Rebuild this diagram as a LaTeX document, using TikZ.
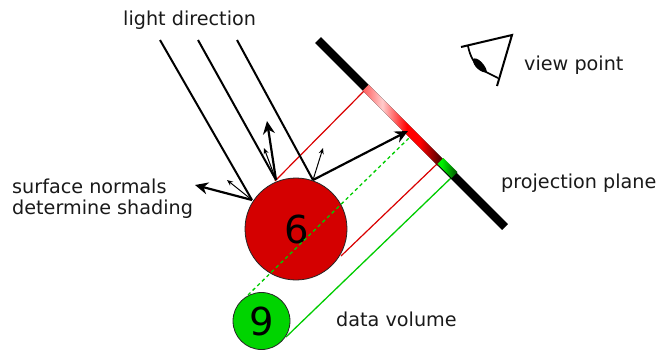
\documentclass[tikz,border=0pt]{standalone}
\usepackage{fontspec}
\setmainfont{DejaVu Sans}
\usetikzlibrary{arrows.meta}
\definecolor{ballred}{RGB}{212,0,0}
\definecolor{ballgreen}{RGB}{0,212,0}
\pgfdeclarehorizontalshading{redramp}{100bp}{
  color(0bp)=(white!35!red);
  color(25bp)=(white!35!red);
  color(37bp)=(white!80!red);
  color(52bp)=(red);
  color(60bp)=(red);
  color(72bp)=(black!65!red);
  color(100bp)=(black!65!red)}
\pgfdeclarehorizontalshading{greenramp}{100bp}{
  color(0bp)=(black!5!green);
  color(35bp)=(black!5!green);
  color(75bp)=(black!70!green);
  color(100bp)=(black!70!green)}
\tikzset{
  x=1pt,y=-1pt,
  lab/.style={font=\fontsize{19.2}{23}\selectfont,inner sep=0pt,text=black!90},
  ball/.style={circle,draw=black!85,line width=.8pt,inner sep=0pt,font=\fontsize{38.5}{38}\selectfont},
  lightray/.style={draw=black,line width=2pt},
  bignormal/.style={draw=black,line width=2.2pt,-{Stealth[length=13pt,width=12pt]}},
  smallnormal/.style={draw=black,line width=1pt,-{Stealth[length=6pt,width=5pt]}},
  redray/.style={draw=red!85!black,line width=1.2pt},
  greenray/.style={draw=green!80!black,line width=1.3pt},
  plane/.style={minimum height=8.4pt,inner sep=0pt,rotate=-45}
}
\begin{document}
\begin{tikzpicture}
\useasboundingbox (0,0) rectangle (659,349);
% coordinates
\coordinate (L1) at (160,40); \coordinate (H1) at (252,200);
\coordinate (L2) at (198,40); \coordinate (H2) at (276,180);
\coordinate (L3) at (237,40); \coordinate (H3) at (313,180);
\coordinate (N1a) at (195,185); \coordinate (N1b) at (227,180);
\coordinate (N2a) at (267,121); \coordinate (N2b) at (264,148);
\coordinate (N3a) at (408,131); \coordinate (N3b) at (323,148);
\coordinate (P0) at (318,40); \coordinate (P1) at (505,227);
\coordinate (R1a) at (275,181); \coordinate (R1b) at (366,89);
\coordinate (R2a) at (341,256); \coordinate (R2b) at (438,163);
\coordinate (G1a) at (286,337); \coordinate (G1b) at (452,177);
\coordinate (G2a) at (248,295); \coordinate (G2b) at (410,137);
% rays behind the balls
\draw[redray] (R1a) -- (R1b);
\draw[redray] (R2a) -- (R2b);
\draw[greenray] (G1a) -- (G1b);
% projection plane
\draw[line width=8.4pt,black] (P0) -- (P1);
\node[plane,minimum width=107pt,shading=redramp] (ramp) at (403.5,125.5) {};
\node[plane,minimum width=20pt,shading=greenramp] (gramp) at (447.5,168) {};
% balls
\node[ball,fill=ballred,minimum size=102pt] (big) at (296,229) {\hspace*{1pt}6};
\node[ball,fill=ballgreen,minimum size=57pt] (small) at (261.5,321) {\hspace*{1pt}9};
\draw[greenray,dashed,dash pattern=on 3.5pt off 3pt] (G2a) -- (G2b);
% light
\draw[lightray] (L1) -- (H1);
\draw[lightray] (L2) -- (H2);
\draw[lightray] (L3) -- (H3);
% normals
\draw[bignormal] (H1) -- (N1a);
\draw[smallnormal] (H1) -- (N1b);
\draw[bignormal] (H2) -- (N2a);
\draw[smallnormal] (H2) -- (N2b);
\draw[bignormal] (H3) -- (N3a);
\draw[smallnormal] (H3) -- (N3b);
% eye
\draw[black,line width=2pt] (461,47) -- (512,35) -- (497,86);
\draw[black,line width=1.7pt] (468,46) .. controls (470,56) and (474,64) .. (482,70) .. controls (486,72) and (492,75) .. (498,78);
\fill[black] (473,59) .. controls (477,56) and (486,65) .. (487,72) .. controls (482,74) and (472,66) .. (473,59) -- cycle;
% labels
\node[lab,anchor=west] (t1) at (123,20) {light direction};
\node[lab,anchor=west] (t2) at (524,65) {view point};
\node[lab,anchor=west] (t3) at (501,183) {projection plane};
\node[lab,anchor=west] (t4) at (12,186) {surface normals};
\node[lab,anchor=west] (t5) at (12,209) {determine shading};
\node[lab,anchor=west] (t6) at (336,319) {data volume};
\end{tikzpicture}
\end{document}
